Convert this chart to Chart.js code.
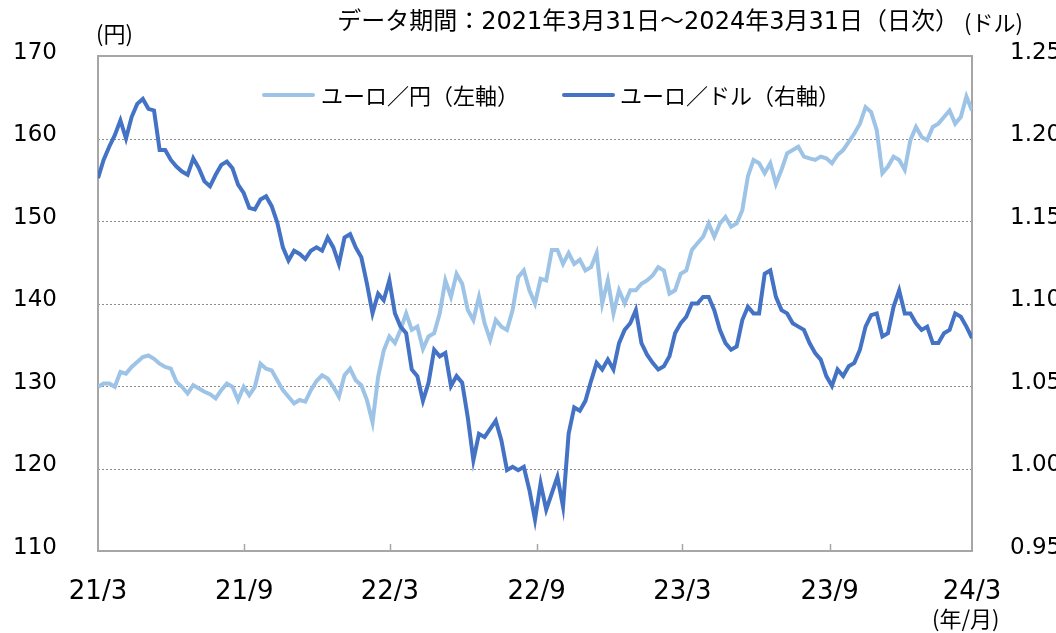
<!DOCTYPE html>
<html><head><meta charset="utf-8">
<script src="https://cdn.jsdelivr.net/npm/chart.js@4/dist/chart.umd.min.js"></script>
<style>
body{margin:0;background:#fff;}
#wrap{position:relative;width:1056px;height:633px;font-family:'DejaVu Sans','Noto Sans CJK JP',sans-serif;color:#000;overflow:hidden;}
canvas{position:absolute;left:0;top:0;}
.t{position:absolute;white-space:nowrap;line-height:1;}
.sw{position:absolute;height:4px;width:53px;border-radius:2px;}
</style></head><body>
<div id="wrap">
<canvas id="c" width="1056" height="633"></canvas>
<div class="t" style="right:97px;top:9px;font-size:24px;font-family:'DejaVu Sans','Noto Sans CJK JP';">データ期間：2021年3月31日～2024年3月31日（日次）</div>
<div class="t" style="left:964px;top:10px;font-size:22px;font-family:'Noto Sans CJK JP';">(ドル)</div>
<div class="t" style="left:96px;top:21px;font-size:22px;font-family:'Noto Sans CJK JP';">(円)</div>
<div class="t" style="left:932px;top:606px;font-size:22px;font-family:'Noto Sans CJK JP';">(年/月)</div>
<div class="sw" style="left:262px;top:93px;background:#9DC3E6;"></div>
<div class="t" style="left:321px;top:83px;font-size:22px;font-family:'Noto Sans CJK JP';">ユーロ／円（左軸）</div>
<div class="sw" style="left:562px;top:93px;background:#4472C4;"></div>
<div class="t" style="left:620px;top:83px;font-size:22px;font-family:'Noto Sans CJK JP';">ユーロ／ドル（右軸）</div>
</div>
<script>
// Weekly samples from 2021/3/31 to 2024/3/31 (index = week number)
const eurJpy = [
129.9,130.3,130.3,129.9,131.7,131.5,132.3,132.9,133.5,133.7,
133.3,132.7,132.3,132.1,130.5,129.9,129.1,130.1,129.7,129.3,
129.0,128.5,129.5,130.3,129.9,128.3,129.9,128.9,129.9,132.7,
132.1,131.9,130.7,129.5,128.7,127.9,128.3,128.1,129.5,130.6,
131.3,130.9,129.9,128.7,131.3,132.1,130.7,130.1,128.3,125.6,
131.1,134.3,136.0,135.2,136.8,138.8,136.8,137.2,134.5,136.0,
136.4,138.8,142.8,140.8,143.6,142.4,139.2,138.0,140.8,137.6,
135.6,138.0,137.2,136.8,139.2,143.2,144.0,141.6,140.0,143.0,
142.8,146.5,146.5,144.8,146.1,144.8,145.3,144.0,144.4,146.1,
140.0,142.8,138.8,141.6,140.0,141.6,141.6,142.4,142.8,143.4,
144.4,144.0,141.2,141.6,143.6,144.0,146.5,147.3,148.1,149.7,
148.1,149.7,150.5,149.3,149.7,151.3,155.4,157.4,157.0,155.8,
157.0,154.5,156.2,158.2,158.6,159.0,157.8,157.6,157.4,157.8,
157.6,157.0,158.0,158.6,159.6,160.6,161.8,163.8,163.2,161.0,
155.8,156.6,157.8,157.4,156.2,159.8,161.4,160.2,159.8,161.4,
161.8,162.6,163.4,161.8,162.6,165.1,163.4
];
const eurUsd = [
1.176,1.187,1.195,1.202,1.211,1.200,1.213,1.221,1.224,1.218,
1.217,1.193,1.193,1.187,1.183,1.180,1.178,1.188,1.182,1.174,
1.171,1.178,1.184,1.186,1.182,1.172,1.167,1.158,1.157,1.163,
1.165,1.159,1.149,1.134,1.126,1.132,1.130,1.127,1.132,1.134,
1.132,1.140,1.134,1.124,1.140,1.142,1.134,1.128,1.112,1.094,
1.106,1.102,1.114,1.094,1.086,1.082,1.060,1.056,1.041,1.052,
1.072,1.068,1.070,1.050,1.056,1.052,1.031,1.005,1.021,1.019,
1.024,1.029,1.017,0.999,1.001,0.999,1.001,0.987,0.969,0.991,
0.975,0.985,0.995,0.977,1.021,1.037,1.035,1.041,1.053,1.064,
1.060,1.066,1.060,1.076,1.084,1.088,1.096,1.076,1.069,1.064,
1.060,1.062,1.068,1.082,1.088,1.092,1.100,1.100,1.104,1.104,
1.096,1.084,1.076,1.072,1.074,1.090,1.098,1.094,1.094,1.118,
1.120,1.104,1.096,1.094,1.088,1.086,1.084,1.076,1.070,1.066,
1.056,1.050,1.060,1.056,1.062,1.064,1.072,1.086,1.093,1.094,
1.080,1.082,1.098,1.108,1.094,1.094,1.088,1.084,1.086,1.076,
1.076,1.082,1.084,1.094,1.092,1.086,1.079
];
const tickWeeks = [0, 26.1, 52.1, 78.3, 104.3, 130.6, 156];
const tickLabels = ['21/3','21/9','22/3','22/9','23/3','23/9','24/3'];
const leftTicks = [110,120,130,140,150,160,170];
const rightTicks = [0.95,1.00,1.05,1.10,1.15,1.20,1.25];
const seriesNames = ['ユーロ／円（左軸）','ユーロ／ドル（右軸）'];

const tickFont = {family:"'DejaVu Sans','Noto Sans CJK JP'", size:23};

const framePlugin = {
  id:'frame',
  beforeDatasetsDraw(chart){
    const {ctx, chartArea:a, scales} = chart;
    ctx.save();
    ctx.strokeStyle = '#8c8c8c';
    ctx.lineWidth = 1;
    ctx.setLineDash([2,2]);
    leftTicks.forEach(v=>{
      if(v===110||v===170) return;
      const y = Math.round(scales.y.getPixelForValue(v))+0.5;
      ctx.beginPath(); ctx.moveTo(a.left,y); ctx.lineTo(a.right,y); ctx.stroke();
    });
    ctx.setLineDash([]);
    ctx.strokeStyle = '#a6a6a6';
    ctx.lineWidth = 2;
    ctx.strokeRect(a.left, a.top, a.right-a.left, a.bottom-a.top);
    ctx.lineWidth = 1.5;
    tickWeeks.forEach((w,i)=>{
      if(i===0||i===tickWeeks.length-1) return;
      const x = Math.round(scales.x.getPixelForValue(w))+0.5;
      ctx.beginPath(); ctx.moveTo(x,a.bottom); ctx.lineTo(x,a.bottom-7); ctx.stroke();
    });
    ctx.restore();
  }
};

new Chart(document.getElementById('c'), {
  type:'line',
  data:{
    datasets:[
      {label:seriesNames[0], data:eurJpy.map((v,i)=>({x:i,y:v})), yAxisID:'y',
       borderColor:'#9DC3E6', borderWidth:4, pointRadius:0, tension:0, order:2},
      {label:seriesNames[1], data:eurUsd.map((v,i)=>({x:i,y:v})), yAxisID:'y1',
       borderColor:'#4472C4', borderWidth:4, pointRadius:0, tension:0, order:1}
    ]
  },
  options:{
    responsive:false, animation:false,
    layout:{padding:{top:56,left:0,right:0,bottom:0}},
    plugins:{legend:{display:false}, tooltip:{enabled:false}, title:{display:false}},
    scales:{
      x:{type:'linear', min:0, max:156,
        afterBuildTicks(s){ s.ticks = tickWeeks.map(v=>({value:v})); },
        afterFit(s){ s.height = 82; },
        ticks:{autoSkip:false, maxRotation:0, padding:18, color:'#000',
          font:{family:"'DejaVu Sans','Noto Sans CJK JP'", size:26},
          callback:(v,i)=>tickLabels[i]},
        grid:{display:false}, border:{display:false}},
      y:{position:'left', min:110, max:170,
        afterBuildTicks(s){ s.ticks = leftTicks.map(v=>({value:v})); },
        afterFit(s){ s.width = 98; },
        ticks:{padding:33, color:'#000', font:tickFont, labelOffset:-3},
        grid:{display:false}, border:{display:false}},
      y1:{position:'right', min:0.95, max:1.25,
        afterBuildTicks(s){ s.ticks = rightTicks.map(v=>({value:v})); },
        afterFit(s){ s.width = 84; },
        ticks:{padding:30, color:'#000', font:tickFont, labelOffset:-3,
          callback:v=>v.toFixed(2)},
        grid:{display:false}, border:{display:false}}
    }
  },
  plugins:[framePlugin]
});
</script>
</body></html>
